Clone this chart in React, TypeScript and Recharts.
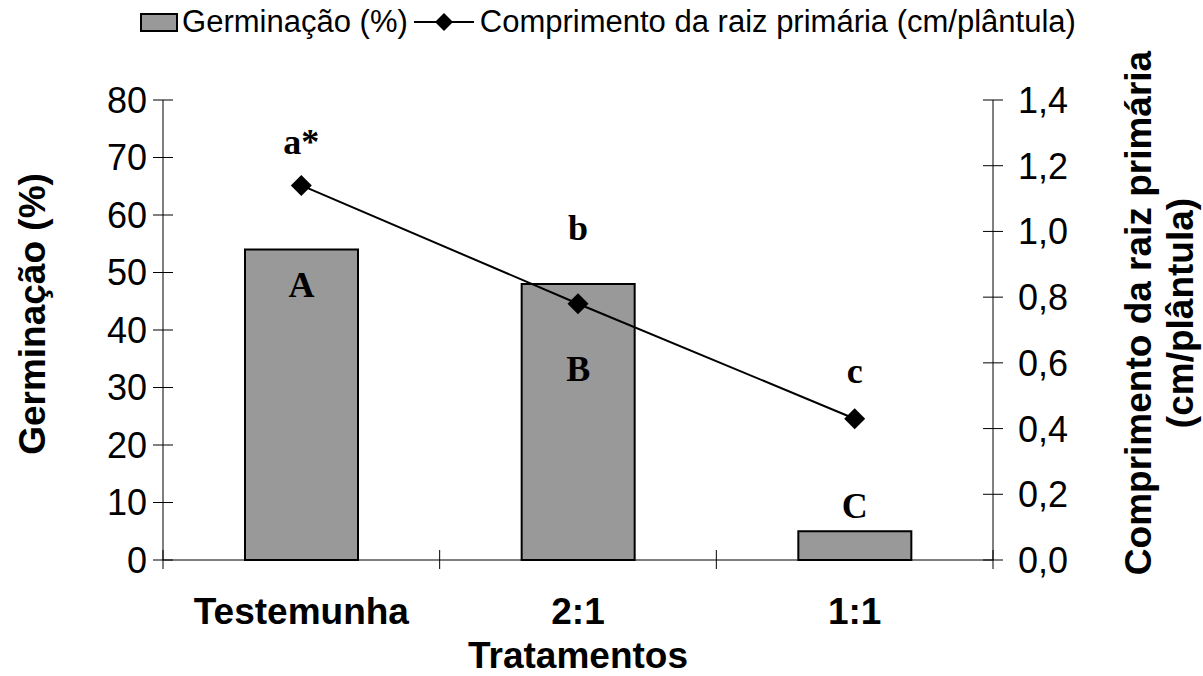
import { ComposedChart, Bar, Line, XAxis, YAxis, LabelList, Label } from 'recharts'

const categories = ['Testemunha', '2:1', '1:1']
const germinacao = [54, 48, 5]
const comprimento = [1.14, 0.78, 0.43]
const barLetters = ['A', 'B', 'C']
const lineLetters = ['a*', 'b', 'c']
const germTicks = [0, 10, 20, 30, 40, 50, 60, 70, 80]
const raizTicks = [0, 0.2, 0.4, 0.6, 0.8, 1.0, 1.2, 1.4]

// where the significance letters sit relative to their mark (px, by eye)
const barLetterDy = [35, 84, -26]
const lineLetterDy = [-44, -76, -48]

const SANS = "'Liberation Sans', Arial, sans-serif"
const SERIF = "'Liberation Serif', 'Times New Roman', serif"

const data = categories.map((name, i) => ({
  name,
  germ: germinacao[i],
  raiz: comprimento[i],
}))

const fmtComma = (v: number) => v.toFixed(1).replace('.', ',')

const LeftTick = (p: any) => {
  const { x, y, payload } = p
  return (
    <g>
      <line x1={x + 16} x2={x + 26} y1={y} y2={y} stroke="#000" />
      <text x={x} y={y} dy="0.36em" textAnchor="end" fontSize={36} fontFamily={SANS} fill="#000">
        {payload.value}
      </text>
    </g>
  )
}

const RightTick = (p: any) => {
  const { x, y, payload } = p
  return (
    <g>
      <line x1={x - 35} x2={x - 25} y1={y} y2={y} stroke="#000" />
      <text x={x} y={y} dy="0.36em" textAnchor="start" fontSize={36} fontFamily={SANS} fill="#000">
        {fmtComma(payload.value)}
      </text>
    </g>
  )
}

const CatTick = (p: any) => {
  const { x, y, payload, index } = p
  const half = payload.offset || 0
  return (
    <g>
      {index === 0 && <line x1={x - half} x2={x - half} y1={y - 10} y2={y + 9} stroke="#000" />}
      <line x1={x + half} x2={x + half} y1={y - 10} y2={y + 9} stroke="#000" />
      <text x={x} y={y + 64} textAnchor="middle" fontSize={37} fontWeight="bold" fontFamily={SANS} fill="#000">
        {payload.value}
      </text>
    </g>
  )
}

const Diamond = (p: any) => {
  const { cx, cy, index } = p
  if (cx == null || cy == null) return null
  const r = 10.5
  return (
    <polygon
      key={`d-${index}`}
      points={`${cx},${cy - r} ${cx + r},${cy} ${cx},${cy + r} ${cx - r},${cy}`}
      fill="#000"
    />
  )
}

const BarLetter = (p: any) => {
  const { x, y, width, index } = p
  return (
    <text
      x={x + width / 2}
      y={y + barLetterDy[index]}
      dy="0.35em"
      textAnchor="middle"
      fontSize={36}
      fontWeight="bold"
      fontFamily={SERIF}
      fill="#000"
    >
      {barLetters[index]}
    </text>
  )
}

const LineLetter = (p: any) => {
  const { x, y, index } = p
  return (
    <text
      x={x}
      y={y + lineLetterDy[index]}
      dy="0.35em"
      textAnchor="middle"
      fontSize={36}
      fontWeight="bold"
      fontFamily={SERIF}
      fill="#000"
    >
      {lineLetters[index]}
    </text>
  )
}

function ChartLegend() {
  return (
    <div
      style={{
        position: 'absolute',
        top: 4,
        left: 0,
        width: 1216,
        display: 'flex',
        justifyContent: 'center',
        alignItems: 'center',
        fontFamily: SANS,
        fontSize: 31,
        color: '#000',
        whiteSpace: 'nowrap',
      }}
    >
      <span style={{ width: 34, height: 15, background: '#999999', border: '2px solid #000', marginRight: 4 }} />
      <span>Germinação (%)</span>
      <svg width={64} height={24} style={{ margin: '0 4px' }}>
        <line x1={2} x2={62} y1={12} y2={12} stroke="#000" strokeWidth={2} />
        <polygon points="32,3 41,12 32,21 23,12" fill="#000" />
      </svg>
      <span>Comprimento da raiz primária (cm/plântula)</span>
    </div>
  )
}

export default function App() {
  return (
    <div style={{ position: 'absolute', top: 0, left: 0, width: 1203, height: 676, background: '#fff' }}>
      <ChartLegend />
      <ComposedChart
        width={1203}
        height={676}
        data={data}
        margin={{ top: 100, right: 0, bottom: 0, left: 0 }}
      >
        <XAxis
          dataKey="name"
          height={116}
          axisLine={{ stroke: '#000', strokeWidth: 1 }}
          tickLine={false}
          tickSize={0}
          tickMargin={0}
          tick={CatTick}
          interval={0}
        >
          <Label
            value="Tratamentos"
            position="insideBottom"
            offset={8}
            style={{ fontSize: 37, fontWeight: 'bold', fontFamily: SANS, fill: '#000' }}
          />
        </XAxis>
        <YAxis
          yAxisId="left"
          orientation="left"
          width={163}
          domain={[0, 80]}
          ticks={germTicks}
          interval={0}
          axisLine={{ stroke: '#000' }}
          tickLine={{ stroke: '#000' }}
          tickSize={10}
          tickMargin={6}
          tick={LeftTick}
        >
          <Label
            content={(p: any) => {
              const vb = p.viewBox
              return (
                <text
                  transform={`translate(${vb.x + 32}, ${vb.y + vb.height / 2 - 16}) rotate(-90)`}
                  textAnchor="middle"
                  dominantBaseline="central"
                  fontSize={37}
                  fontWeight="bold"
                  fontFamily={SANS}
                  fill="#000"
                >
                  Germinação (%)
                </text>
              )
            }}
          />
        </YAxis>
        <YAxis
          yAxisId="right"
          orientation="right"
          width={210}
          domain={[0, 1.4]}
          ticks={raizTicks}
          interval={0}
          axisLine={{ stroke: '#000' }}
          tickLine={{ stroke: '#000' }}
          tickSize={10}
          tickMargin={15}
          tick={RightTick}
        >
          <Label
            content={(p: any) => {
              const vb = p.viewBox
              const cy = vb.y + vb.height / 2 - 17
              return (
                <g fontSize={37} fontWeight="bold" fontFamily={SANS} fill="#000">
                  <text
                    transform={`translate(${vb.x + 145}, ${cy}) rotate(-90)`}
                    textAnchor="middle"
                    dominantBaseline="central"
                  >
                    Comprimento da raiz primária
                  </text>
                  <text
                    transform={`translate(${vb.x + 187}, ${cy}) rotate(-90)`}
                    textAnchor="middle"
                    dominantBaseline="central"
                  >
                    (cm/plântula)
                  </text>
                </g>
              )
            }}
          />
        </YAxis>
        <Bar
          yAxisId="left"
          dataKey="germ"
          fill="#999999"
          stroke="#000"
          strokeWidth={2}
          barSize={113}
          isAnimationActive={false}
        >
          <LabelList dataKey="germ" content={BarLetter} />
        </Bar>
        <Line
          yAxisId="right"
          dataKey="raiz"
          type="linear"
          stroke="#000"
          strokeWidth={2}
          dot={Diamond}
          activeDot={false}
          isAnimationActive={false}
        >
          <LabelList dataKey="raiz" content={LineLetter} />
        </Line>
      </ComposedChart>
    </div>
  )
}
